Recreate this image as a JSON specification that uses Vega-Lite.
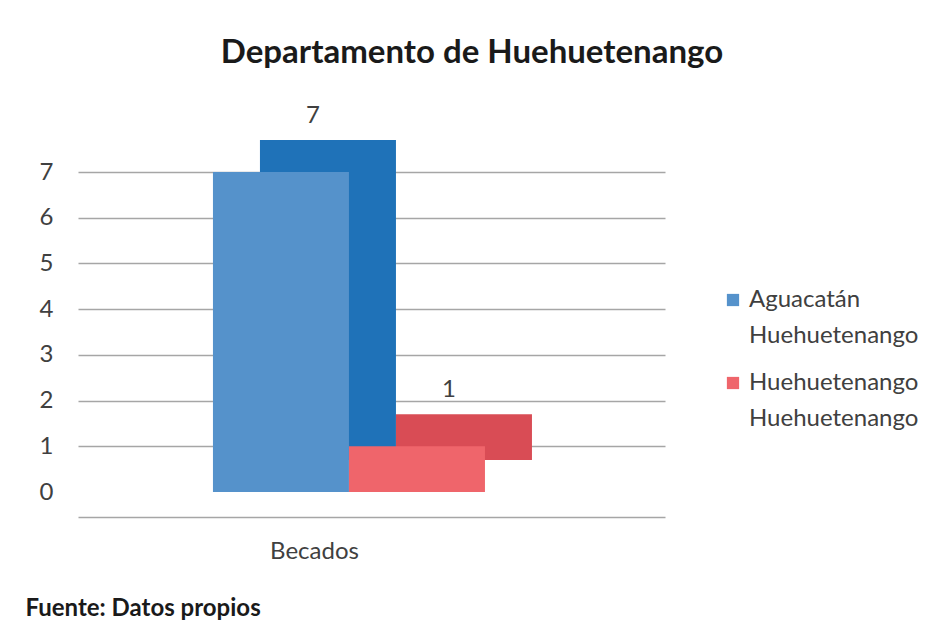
{
  "$schema": "https://vega.github.io/schema/vega-lite/v6.json",
  "width": 587,
  "height": 320,
  "padding": {"left": 25, "top": 37, "right": 5, "bottom": 5},
  "background": "white",
  "config": {
    "font": "Lato",
    "view": {"stroke": null},
    "style": {"guide-label": {"lineHeight": 36}}
  },
  "title": {
    "text": "Departamento de Huehuetenango",
    "fontSize": 33,
    "font": "Lato",
    "fontWeight": "bold",
    "color": "#1a1a1a",
    "anchor": "middle",
    "frame": "bounds",
    "offset": 34
  },
  "data": {
    "values": [
      {"categoria": "Becados", "municipio": "Aguacatán Huehuetenango", "becados": 7},
      {"categoria": "Becados", "municipio": "Huehuetenango Huehuetenango", "becados": 1}
    ]
  },
  "encoding": {
    "x": {
      "field": "municipio",
      "type": "nominal",
      "scale": {
        "domain": ["Aguacatán Huehuetenango", "Huehuetenango Huehuetenango", "_"],
        "paddingInner": 0,
        "paddingOuter": 0.658,
        "align": 0.754
      },
      "axis": {
        "labels": false,
        "ticks": false,
        "domainColor": "#a6a6a6",
        "domainWidth": 1.5,
        "offset": 25,
        "title": "Becados",
        "titleFontSize": 24,
        "titleFontWeight": "normal",
        "titleColor": "#404040",
        "titlePadding": 22,
        "titleAlign": "center",
        "titleX": 236
      }
    },
    "y": {
      "field": "becados",
      "type": "quantitative",
      "scale": {"domain": [0, 7]},
      "axis": {
        "values": [0, 1, 2, 3, 4, 5, 6, 7],
        "labelFontSize": 24,
        "labelColor": "#404040",
        "labelPadding": 25,
        "domain": false,
        "ticks": false,
        "gridColor": "#a6a6a6",
        "gridWidth": 1.5,
        "gridOpacity": {"condition": {"test": "datum.value === 0", "value": 0}, "value": 1},
        "title": "Fuente: Datos propios",
        "titleAngle": 0,
        "titleFontSize": 24,
        "titleFontWeight": "bold",
        "titleColor": "#1a1a1a",
        "titleAlign": "left",
        "titleBaseline": "alphabetic",
        "titleX": -53,
        "titleY": 443
      }
    }
  },
  "layer": [
    {
      "mark": {"type": "bar", "xOffset": 47, "yOffset": -32},
      "encoding": {
        "color": {
          "field": "municipio",
          "type": "nominal",
          "scale": {"range": ["#1f72b8", "#d94c55"]},
          "legend": null
        }
      }
    },
    {
      "mark": {"type": "bar"},
      "encoding": {
        "color": {
          "field": "municipio",
          "type": "nominal",
          "scale": {"range": ["#5592cb", "#ef656b"]},
          "legend": {
            "title": null,
            "orient": "none",
            "legendX": 643,
            "legendY": 116,
            "symbolType": "square",
            "symbolSize": 150,
            "symbolStrokeWidth": 0,
            "labelFontSize": 24,
            "labelColor": "#404040",
            "labelExpr": "split(datum.label, ' ')",
            "labelLimit": 300,
            "rowPadding": 23,
            "labelOffset": 4
          }
        }
      }
    },
    {
      "mark": {"type": "text", "baseline": "bottom", "xOffset": 32, "yOffset": -44, "fontSize": 24, "color": "#404040"},
      "encoding": {"text": {"field": "becados", "type": "quantitative"}}
    }
  ],
  "resolve": {"scale": {"color": "independent"}}
}
